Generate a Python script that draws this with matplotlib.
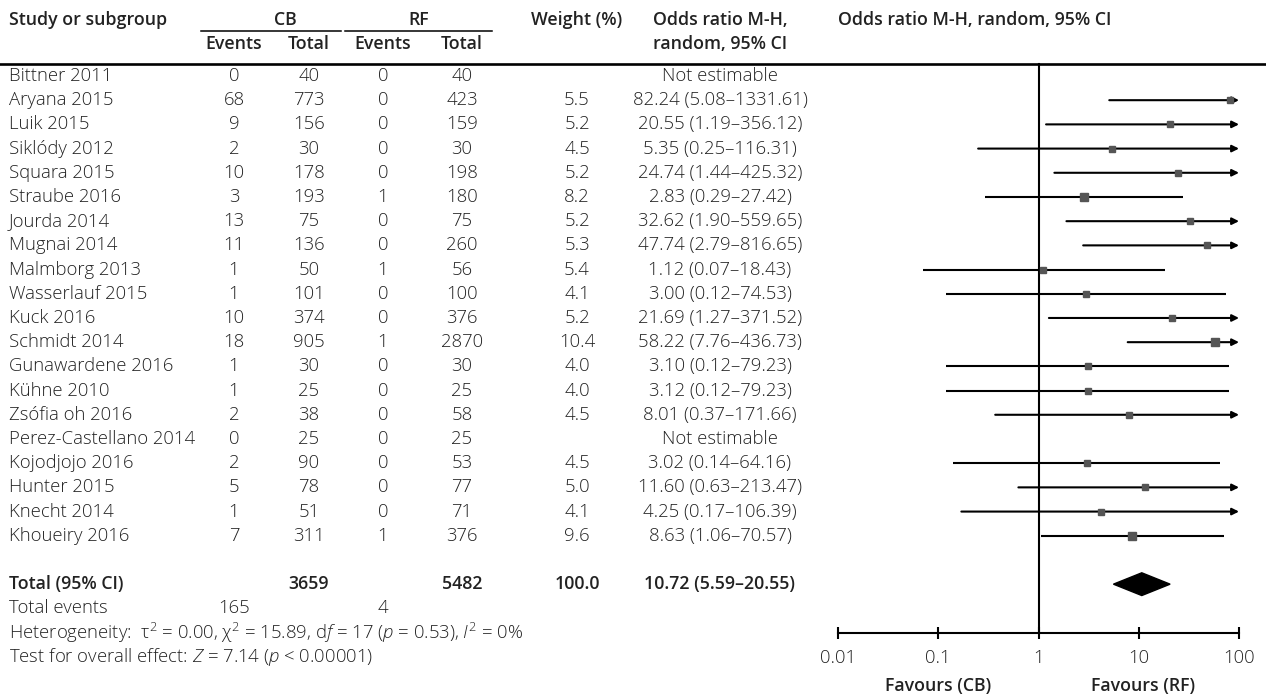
import matplotlib
matplotlib.use("Agg")
import matplotlib.pyplot as plt

# ---- data ----
studies = ["Bittner 2011", "Aryana 2015", "Luik 2015", "Siklódy 2012", "Squara 2015",
           "Straube 2016", "Jourda 2014", "Mugnai 2014", "Malmborg 2013", "Wasserlauf 2015",
           "Kuck 2016", "Schmidt 2014", "Gunawardene 2016", "Kühne 2010", "Zsófia oh 2016",
           "Perez-Castellano 2014", "Kojodjojo 2016", "Hunter 2015", "Knecht 2014", "Khoueiry 2016"]
cb_events = [0, 68, 9, 2, 10, 3, 13, 11, 1, 1, 10, 18, 1, 1, 2, 0, 2, 5, 1, 7]
cb_total = [40, 773, 156, 30, 178, 193, 75, 136, 50, 101, 374, 905, 30, 25, 38, 25, 90, 78, 51, 311]
rf_events = [0, 0, 0, 0, 0, 1, 0, 0, 1, 0, 0, 1, 0, 0, 0, 0, 0, 0, 0, 1]
rf_total = [40, 423, 159, 30, 198, 180, 75, 260, 56, 100, 376, 2870, 30, 25, 58, 25, 53, 77, 71, 376]
weights = [None, 5.5, 5.2, 4.5, 5.2, 8.2, 5.2, 5.3, 5.4, 4.1, 5.2, 10.4, 4.0, 4.0, 4.5, None, 4.5, 5.0, 4.1, 9.6]
odds = [None, 82.24, 20.55, 5.35, 24.74, 2.83, 32.62, 47.74, 1.12, 3.00, 21.69, 58.22, 3.10, 3.12, 8.01,
        None, 3.02, 11.60, 4.25, 8.63]
ci_low = [None, 5.08, 1.19, 0.25, 1.44, 0.29, 1.90, 2.79, 0.07, 0.12, 1.27, 7.76, 0.12, 0.12, 0.37,
          None, 0.14, 0.63, 0.17, 1.06]
ci_high = [None, 1331.61, 356.12, 116.31, 425.32, 27.42, 559.65, 816.65, 18.43, 74.53, 371.52, 436.73,
           79.23, 79.23, 171.66, None, 64.16, 213.47, 106.39, 70.57]

total_cb, total_rf = 3659, 5482
events_cb, events_rf = 165, 4
total_weight = 100.0
pooled_or, pooled_low, pooled_high = 10.72, 5.59, 20.55
axis_ticks = [0.01, 0.1, 1, 10, 100]
axis_ticklabels = ["0.01", "0.1", "1", "10", "100"]

# ---- style ----
FONT = "Open Sans"
plt.rcParams["font.family"] = [FONT, "DejaVu Sans"]
plt.rcParams["mathtext.fontset"] = "custom"
plt.rcParams["mathtext.rm"] = FONT + ":light"
plt.rcParams["mathtext.it"] = FONT + ":italic:light"
FS = 13.3
FSB = 12.8
TXT = "#222222"

W, H = 1266, 695
fig = plt.figure(figsize=(W / 100, H / 100), dpi=100)

row_top, row_bottom = -3.14, 25.58
ax_t = fig.add_axes([0, 0, 1, 1])
ax_t.set_xlim(0, W)
ax_t.set_ylim(row_bottom, row_top)
ax_t.axis("off")

x_study = 9
x_cbe, x_cbt, x_rfe, x_rft = 234, 309, 383, 462
x_w, x_or = 577, 720

def t(x, y, s, ha="center", bold=False, **kw):
    ax_t.text(x, y, s, ha=ha, va="center", fontsize=FSB if bold else FS, color=TXT,
              fontweight="semibold" if bold else "light", **kw)

# header
t(x_study, -2.31, "Study or subgroup", ha="left", bold=True)
t(285, -2.31, "CB", bold=True)
t(419, -2.31, "RF", bold=True)
for xe in (x_cbe, x_rfe):
    t(xe, -1.32, "Events", bold=True)
for xt in (x_cbt, x_rft):
    t(xt, -1.32, "Total", bold=True)
t(x_w, -2.31, "Weight (%)", bold=True)
t(x_or, -2.31, "Odds ratio M-H,", bold=True)
t(x_or, -1.32, "random, 95% CI", bold=True)
t(975, -2.31, "Odds ratio M-H, random, 95% CI", bold=True)
ax_t.plot([201, 341], [-1.85, -1.85], color="black", lw=1.1)
ax_t.plot([345, 492], [-1.85, -1.85], color="black", lw=1.1)
ax_t.plot([0, W], [-0.5, -0.5], color="black", lw=1.9)

# study rows
for i, name in enumerate(studies):
    t(x_study, i, name, ha="left")
    t(x_cbe, i, str(cb_events[i]))
    t(x_cbt, i, str(cb_total[i]))
    t(x_rfe, i, str(rf_events[i]))
    t(x_rft, i, str(rf_total[i]))
    if odds[i] is None:
        t(x_or, i, "Not estimable")
    else:
        t(x_w, i, f"{weights[i]:.1f}")
        t(x_or, i, f"{odds[i]:.2f} ({ci_low[i]:.2f}\u2013{ci_high[i]:.2f})")

# totals and statistics
y_tot = len(studies) + 1
t(x_study, y_tot, "Total (95% CI)", ha="left", bold=True)
t(x_cbt, y_tot, str(total_cb), bold=True)
t(x_rft, y_tot, str(total_rf), bold=True)
t(x_w, y_tot, f"{total_weight:.1f}", bold=True)
t(x_or, y_tot, f"{pooled_or:.2f} ({pooled_low:.2f}\u2013{pooled_high:.2f})", bold=True)
t(x_study, y_tot + 1, "Total events", ha="left")
t(x_cbe, y_tot + 1, str(events_cb))
t(x_rfe, y_tot + 1, str(events_rf))
t(x_study, y_tot + 2,
  "Heterogeneity:  \u03c4$^2$ = 0.00, \u03c7$^2$ = 15.89, d$\\it{f}$ = 17 ($\\it{p}$ = 0.53), $\\it{I}^2$ = 0%",
  ha="left")
t(x_study, y_tot + 3, "Test for overall effect: $\\it{Z}$ = 7.14 ($\\it{p}$ < 0.00001)", ha="left")

# ---- forest panel ----
x0, x1 = 838, 1239
ax_f = fig.add_axes([x0 / W, 0, (x1 - x0) / W, 1])
ax_f.patch.set_alpha(0)
ax_f.set_xscale("log")
ax_f.set_xlim(0.01, 100)
ax_f.set_ylim(row_bottom, row_top)
for s in ("left", "right", "top"):
    ax_f.spines[s].set_visible(False)
ax_f.spines["bottom"].set_position(("data", y_tot + 2))
ax_f.spines["bottom"].set_linewidth(1.5)
ax_f.set_yticks([])
ax_f.set_xticks(axis_ticks)
ax_f.set_xticklabels(axis_ticklabels)
ax_f.minorticks_off()
ax_f.tick_params(axis="x", direction="inout", length=9, width=1.5, pad=7,
                 labelsize=FS, labelcolor=TXT)
for lab in ax_f.get_xticklabels():
    lab.set_fontweight("light")

ax_f.plot([1, 1], [-0.5, y_tot + 2], color="black", lw=1.5, clip_on=False)

xmin, xmax = 0.01, 100
for i in range(len(studies)):
    if odds[i] is None:
        continue
    lo = max(ci_low[i], xmin)
    hi = ci_high[i]
    if hi > xmax:
        ax_f.annotate("", xy=(xmax, i), xytext=(lo, i),
                      arrowprops=dict(arrowstyle="-|>", lw=1.5, color="black",
                                      mutation_scale=10, shrinkA=0, shrinkB=0),
                      annotation_clip=False)
    else:
        ax_f.plot([lo, hi], [i, i], color="black", lw=1.5, solid_capstyle="butt")
    # square size grows with study weight
    ms = 3.0 + 0.25 * weights[i]
    ax_f.plot(odds[i], i, marker="s", ms=ms, color="#555555", mec="#555555", zorder=3, clip_on=False)

# pooled estimate diamond
dh = 0.47
ax_f.fill([pooled_low, pooled_or, pooled_high, pooled_or],
          [y_tot, y_tot - dh, y_tot, y_tot + dh], color="black", zorder=3)

ax_f.text(0.1, 25.2, "Favours (CB)", ha="center", va="center", fontsize=FSB,
          fontweight="semibold", color=TXT)
ax_f.text(11, 25.2, "Favours (RF)", ha="center", va="center", fontsize=FSB,
          fontweight="semibold", color=TXT)

fig.savefig("out.png", dpi=100)
